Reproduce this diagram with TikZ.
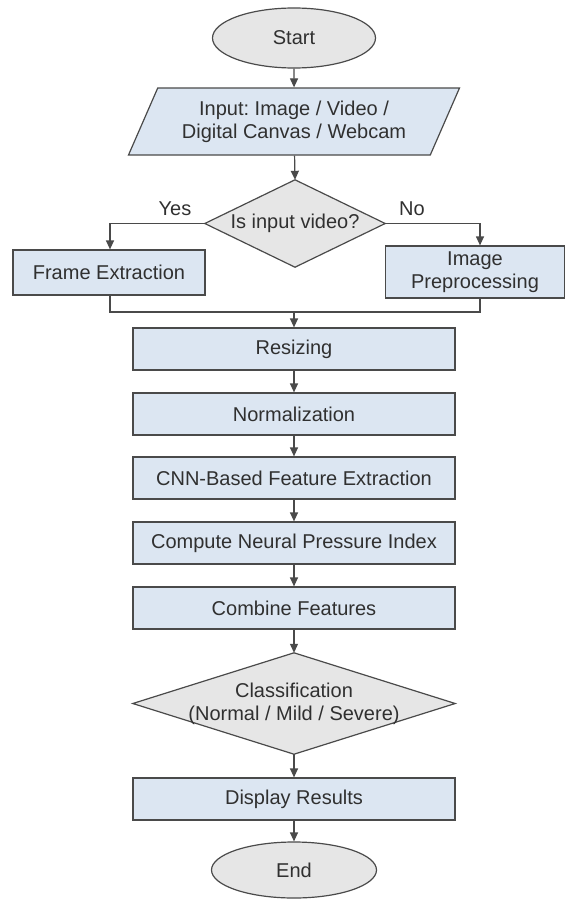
\documentclass[tikz,border=0pt]{standalone}
\usepackage{fontspec}
\setmainfont{Liberation Sans}
\frenchspacing
\usetikzlibrary{shapes.geometric,arrows.meta}
\definecolor{boxblue}{HTML}{DCE6F2}
\definecolor{shapegray}{HTML}{E6E6E6}
\definecolor{edgegray}{HTML}{4A4A4A}
\definecolor{textgray}{HTML}{303030}
\tikzset{
  base/.style={draw=edgegray, line width=1.2pt, text=textgray, align=center,
    font=\fontsize{20}{23}\selectfont, inner sep=0pt},
  procbox/.style={base, rectangle, fill=boxblue, minimum width=322pt, minimum height=42pt},
  termnode/.style={base, ellipse, fill=shapegray},
  decbox/.style={rectangle, text=textgray, align=center,
    font=\fontsize{20}{23}\selectfont, inner sep=0pt},
  decshape/.style={draw=edgegray, line width=1.2pt, fill=shapegray, line join=miter},
  ionode/.style={base, trapezium, trapezium left angle=60, trapezium right angle=120,
    trapezium stretches=true, fill=boxblue, minimum width=332pt, minimum height=67pt},
  flow/.style={draw=edgegray, line width=1.2pt, -{Stealth[length=9pt,width=8pt,inset=0pt]}},
  plainline/.style={draw=edgegray, line width=1.2pt},
  lbl/.style={text=textgray, font=\fontsize{20}{23}\selectfont, inner sep=0pt}
}
\begin{document}
\begin{tikzpicture}[x=1pt,y=-1pt]
\useasboundingbox (0,0) rectangle (567,899);
\node[termnode, minimum width=163pt, minimum height=60pt] (start) at (294,38) {Start};
\node[ionode] (inp) at (294,121.5) {Input: Image / Video /\\Digital Canvas / Webcam};
% decision 1
\node[decbox, minimum width=180pt, minimum height=87pt] (dec) at (295,223.5) {};
\draw[decshape] (dec.north) -- (dec.east) -- (dec.south) -- (dec.west) -- cycle;
\node[decbox] (dectext) at (dec.center) {Is input video?};
\node[procbox, minimum width=192pt, minimum height=45pt] (fe) at (109,272.5) {Frame Extraction};
\node[procbox, minimum width=179pt, minimum height=52pt] (ip) at (475,272) {Image\\Preprocessing};
\node[lbl] (yes) at (175,209) {Yes};
\node[lbl] (no) at (412,209) {No};
\node[procbox] (res) at (294,349) {Resizing};
\node[procbox] (norm) at (294,414) {Normalization};
\node[procbox] (cnn) at (294,478) {CNN-Based Feature Extraction};
\node[procbox] (npi) at (294,543) {Compute Neural Pressure Index};
\node[procbox] (comb) at (294,608) {Combine Features};
% decision 2
\node[decbox, minimum width=322pt, minimum height=101pt] (cls) at (294,703.5) {};
\draw[decshape] (cls.north) -- (cls.east) -- (cls.south) -- (cls.west) -- cycle;
\node[decbox] (clstext) at (cls.center) {Classification\\(Normal / Mild / Severe)};
\node[procbox] (disp) at (294,799) {Display Results};
\node[termnode, minimum width=165pt, minimum height=56pt] (end) at (294,870) {End};
\coordinate (mleft) at (110,312);
\coordinate (mright) at (480,312);
\coordinate (mmid) at (294,312);
\draw[flow] (start) -- (inp);
\draw[flow] (inp) -- (dec.north);
\draw[flow] (dec.west) -| (fe.north -| mleft);
\draw[flow] (dec.east) -| (ip.north -| mright);
\draw[plainline] (fe.south -| mleft) -- (mleft) -- (mright) -- (ip.south -| mright);
\draw[flow] (mmid) -- (res);
\draw[flow] (res) -- (norm);
\draw[flow] (norm) -- (cnn);
\draw[flow] (cnn) -- (npi);
\draw[flow] (npi) -- (comb);
\draw[flow] (comb) -- (cls.north);
\draw[flow] (cls.south) -- (disp);
\draw[flow] (disp) -- (end);
\end{tikzpicture}
\end{document}
